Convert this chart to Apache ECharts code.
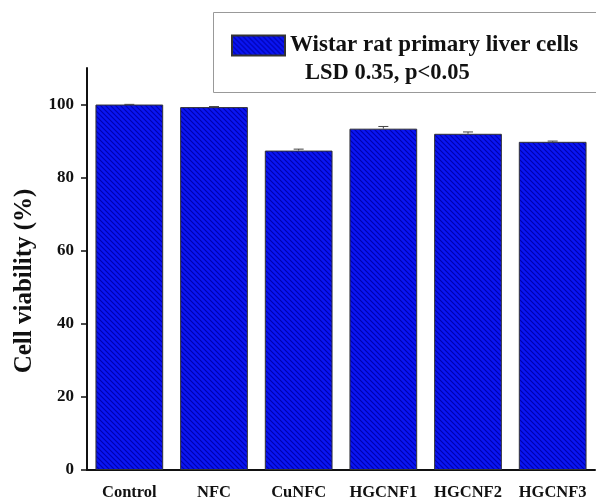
<!DOCTYPE html>
<html><head><meta charset="utf-8">
<script src="https://cdn.jsdelivr.net/npm/echarts@6/dist/echarts.min.js"></script>
<style>html,body{margin:0;padding:0;background:#fff}#c{width:596px;height:501px}</style>
</head><body><div id="c"></div>
<script>
const categories = ['Control','NFC','CuNFC','HGCNF1','HGCNF2','HGCNF3'];
const viability = [100, 99.3, 87.4, 93.4, 92.0, 89.8];
const errors = [0.05, 0.15, 0.4, 0.6, 0.5, 0.2];
const yTicks = [0, 20, 40, 60, 80, 100];
const seriesName = 'Wistar rat primary liver cells';
const noteText = 'LSD 0.35, p<0.05';

const F = '"Liberation Serif","Times New Roman",serif';

// hatch pattern
const S = 5;
const tile = document.createElement('canvas');
tile.width = S; tile.height = S;
const t = tile.getContext('2d');
t.fillStyle = '#0a16f2'; t.fillRect(0,0,S,S);
t.strokeStyle = '#0000ac'; t.lineWidth = 1.1;
t.beginPath();
t.moveTo(-1,-1); t.lineTo(S+1,S+1);
t.moveTo(-1,S-1); t.lineTo(1,S+1);
t.moveTo(S-1,-1); t.lineTo(S+1,1);
t.stroke();

const chart = echarts.init(document.getElementById('c'));
chart.setOption({
  animation: false,
  backgroundColor: '#fff',
  grid: {left: 87, right: 1, top: 68, bottom: 28},
  legend: {
    data: [seriesName], left: 226, top: 29, itemWidth: 53, itemHeight: 20, itemGap: 7,
    textStyle: {fontFamily: F, fontWeight: 'bold', fontSize: 23, color: '#111'},
    icon: 'rect'
  },
  title: {text: noteText, left: 300, top: 57, textStyle: {fontFamily: F, fontWeight: 'bold', fontSize: 22.5, color: '#111'}},
  graphic: [{type: 'rect', shape: {x: 213.5, y: 12.5, width: 400, height: 80}, style: {fill: 'none', stroke: '#999', lineWidth: 1}, z: -1}],
  xAxis: {
    type: 'category', data: categories,
    axisLine: {lineStyle: {color: '#111', width: 2}},
    axisTick: {alignWithLabel: true, length: 5, lineStyle: {color: '#111', width: 1.5}},
    axisLabel: {fontFamily: F, fontWeight: 'bold', fontSize: 16.5, color: '#111', margin: 14, interval: 0}
  },
  yAxis: {
    type: 'value', min: 0, max: 110, interval: 20,
    name: 'Cell viability (%)', nameLocation: 'middle', nameGap: 50,
    nameTextStyle: {fontFamily: F, fontWeight: 'bold', fontSize: 25, color: '#111', padding: [0, 24, 0, 0]},
    axisLine: {show: true, lineStyle: {color: '#111', width: 2}},
    axisTick: {show: true, length: 6, customValues: yTicks, lineStyle: {color: '#111', width: 1.5}},
    axisLabel: {fontFamily: F, fontWeight: 'bold', fontSize: 17, color: '#111', margin: 13, customValues: yTicks},
    splitLine: {show: false}
  },
  series: [{
    name: seriesName, type: 'bar', data: viability, barWidth: '80%',
    itemStyle: {color: {image: tile, repeat: 'repeat'}, borderColor: '#333', borderWidth: 1}
  }, {
    type: 'custom', silent: true, z: 5,
    data: viability.map((v, i) => [i, v, errors[i]]),
    renderItem: function (params, api) {
      const x = api.value(0), v = api.value(1), e = api.value(2);
      const p0 = api.coord([x, v]);
      const p1 = api.coord([x, v + e]);
      const hw = 5;
      return {type: 'group', children: [
        {type: 'line', shape: {x1: p0[0], y1: p0[1], x2: p1[0], y2: p1[1]}, style: {stroke: '#444', lineWidth: 1}},
        {type: 'line', shape: {x1: p1[0]-hw, y1: p1[1], x2: p1[0]+hw, y2: p1[1]}, style: {stroke: '#444', lineWidth: 1}}
      ]};
    }
  }]
});
</script></body></html>
